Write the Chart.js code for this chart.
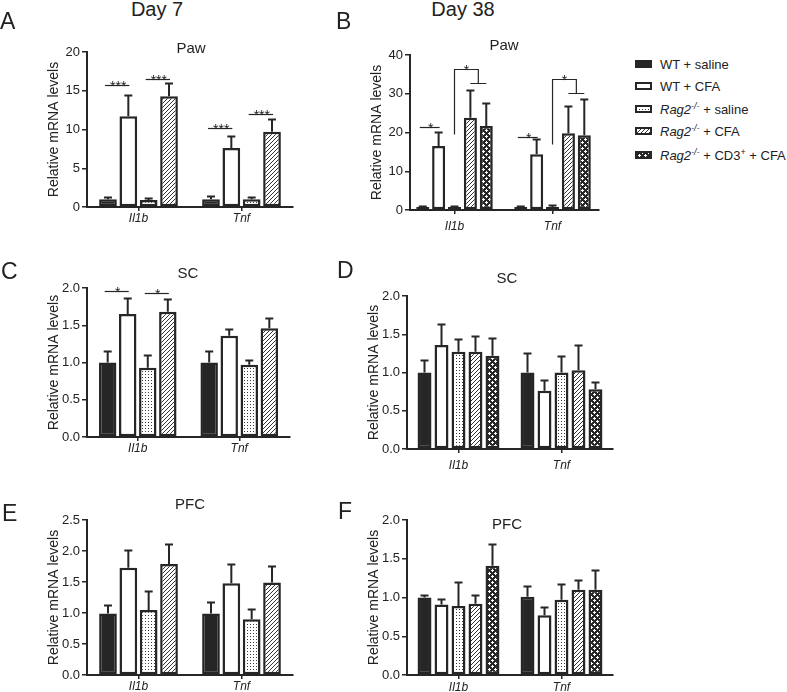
<!DOCTYPE html>
<html>
<head>
<meta charset="utf-8">
<script src="https://cdn.jsdelivr.net/npm/chart.js@4/dist/chart.umd.min.js"></script>
<style>
  body { margin: 0; background: #fff; font-family: "Liberation Sans", Arial, sans-serif; color: #222; }
  #fig { position: relative; width: 787px; height: 692px; overflow: hidden; }
  .abs { position: absolute; line-height: 1; white-space: nowrap; }
  .letter { font-size: 23px; }
  .day { font-size: 20px; text-align: center; width: 120px; }
  .ttl { font-size: 15px; text-align: center; width: 80px; }
  canvas.panel { position: absolute; }
  .leg { position: absolute; left: 635px; height: 13px; width: 150px; font-size: 13px; line-height: 13px; }
  .leg canvas { position: absolute; left: 0; top: 2px; }
  .leg span { position: absolute; left: 25px; top: 0; white-space: nowrap; }
  .leg sup { font-size: 9px; vertical-align: 5px; line-height: 0; }
</style>
</head>
<body>
<div id="fig">
  <canvas id="pawD7" class="panel" width="300" height="200" style="left:0px;top:30px"></canvas>
  <canvas id="pawD38" class="panel" width="290" height="205" style="left:320px;top:30px"></canvas>
  <canvas id="scD7" class="panel" width="300" height="190" style="left:0px;top:268px"></canvas>
  <canvas id="scD38" class="panel" width="300" height="195" style="left:320px;top:276px"></canvas>
  <canvas id="pfcD7" class="panel" width="300" height="192" style="left:0px;top:500px"></canvas>
  <canvas id="pfcD38" class="panel" width="300" height="192" style="left:320px;top:500px"></canvas>

  <div class="abs day" style="left:97px;top:-1px">Day 7</div>
  <div class="abs day" style="left:403px;top:-1px">Day 38</div>

  <div class="abs letter" style="left:0px;top:10px">A</div>
  <div class="abs letter" style="left:336px;top:10px">B</div>
  <div class="abs letter" style="left:1px;top:260px">C</div>
  <div class="abs letter" style="left:337px;top:259px">D</div>
  <div class="abs letter" style="left:2px;top:502px">E</div>
  <div class="abs letter" style="left:338px;top:500px">F</div>

  <div class="abs ttl" style="left:151px;top:40px">Paw</div>
  <div class="abs ttl" style="left:464px;top:37px">Paw</div>
  <div class="abs ttl" style="left:148px;top:265px">SC</div>
  <div class="abs ttl" style="left:467px;top:270px">SC</div>
  <div class="abs ttl" style="left:150px;top:496px">PFC</div>
  <div class="abs ttl" style="left:467px;top:516px">PFC</div>

  <div class="leg" style="top:58px"><canvas width="17" height="8"></canvas><span>WT + saline</span></div>
  <div class="leg" style="top:80px"><canvas width="17" height="8"></canvas><span>WT + CFA</span></div>
  <div class="leg" style="top:103px"><canvas width="17" height="8"></canvas><span><i>Rag2</i><sup><i>-/-</i></sup> + saline</span></div>
  <div class="leg" style="top:125px"><canvas width="17" height="8"></canvas><span><i>Rag2</i><sup><i>-/-</i></sup> + CFA</span></div>
  <div class="leg" style="top:149px"><canvas width="17" height="8"></canvas><span><i>Rag2</i><sup><i>-/-</i></sup> + CD3<sup>+</sup> + CFA</span></div>
</div>

<script>
const INK = "#262626";
const TXT = "#222";
const FONT = '"Liberation Sans", Arial, sans-serif';

const GENES = ["Il1b", "Tnf"];
const GROUPS = ["WT + saline", "WT + CFA", "Rag2-/- + saline", "Rag2-/- + CFA", "Rag2-/- + CD3+ + CFA"];

// mean per group (rows) and gene (columns, same order as GENES), then the SEM
const pawDay7 = [[1.0, 1.0], [11.7, 7.6], [0.9, 1.0], [14.3, 9.7]];
const pawDay7Sem = [[0.3, 0.4], [2.8, 1.5], [0.25, 0.3], [1.7, 1.6]];
const pawDay38 = [[0.8, 0.8], [16.5, 14.4], [0.8, 0.8], [23.8, 19.8], [21.7, 19.3]];
const pawDay38Sem = [[0.3, 0.3], [3.7, 3.9], [0.3, 0.4], [7.2, 7.0], [6.0, 9.3]];
const scDay7 = [[1.0, 1.0], [1.65, 1.36], [0.93, 0.97], [1.68, 1.46]];
const scDay7Sem = [[0.15, 0.16], [0.22, 0.09], [0.17, 0.06], [0.17, 0.14]];
const scDay38 = [[1.0, 1.0], [1.36, 0.76], [1.27, 1.0], [1.27, 1.03], [1.22, 0.78]];
const scDay38Sem = [[0.16, 0.26], [0.27, 0.14], [0.17, 0.22], [0.21, 0.33], [0.23, 0.09]];
const pfcDay7 = [[0.99, 0.99], [1.73, 1.48], [1.05, 0.9], [1.79, 1.49]];
const pfcDay7Sem = [[0.14, 0.19], [0.29, 0.31], [0.3, 0.16], [0.33, 0.27]];
const pfcDay38 = [[1.0, 1.01], [0.91, 0.77], [0.89, 0.97], [0.92, 1.1], [1.41, 1.1]];
const pfcDay38Sem = [[0.03, 0.14], [0.07, 0.11], [0.31, 0.21], [0.11, 0.13], [0.28, 0.25]];

// y axis ticks
const pawDay7Ticks = [0, 5, 10, 15, 20];
const pawDay38Ticks = [0, 10, 20, 30, 40];
const scTicks = [0, 0.5, 1.0, 1.5, 2.0];
const pfcDay7Ticks = [0, 0.5, 1.0, 1.5, 2.0, 2.5];
const pfcDay38Ticks = [0, 0.5, 1.0, 1.5, 2.0];

// significance lines: [gene, left bar, right bar, height, label]
const pawDay7Stars = [[0, 0, 1, 15.7, "***"], [0, 2, 3, 16.5, "***"], [1, 0, 1, 10.2, "***"], [1, 2, 3, 12.0, "***"]];
const scDay7Stars = [[0, 0, 1, 1.96, "*"], [0, 2, 3, 1.93, "*"]];
const pawDay38Stars = [[0, 0, 1, 21.5, "*"], [1, 0, 1, 18.9, "*"]];
// one bar against a pair: [gene, bar, first bar of pair, low end, top, pair level, label]
const pawDay38Brackets = [[0, 2, 3, 19.6, 36.4, 32.8, "*"], [1, 2, 3, 17.0, 33.7, 30.1, "*"]];

Chart.defaults.font.family = FONT;
Chart.defaults.color = TXT;

function tile(w, h, paint) {
  const c = document.createElement("canvas");
  c.width = w; c.height = h;
  paint(c.getContext("2d"));
  return c;
}
const dots = tile(3, 3, g => {
  g.fillStyle = "#fff"; g.fillRect(0, 0, 3, 3);
  g.fillStyle = "#3a3a3a"; g.fillRect(1, 1, 1, 1);
});
const hatch = tile(4, 4, g => {
  g.fillStyle = "#fff"; g.fillRect(0, 0, 4, 4);
  g.strokeStyle = "#333"; g.lineWidth = 1;
  g.beginPath();
  g.moveTo(0, 4); g.lineTo(4, 0);
  g.moveTo(-1, 1); g.lineTo(1, -1);
  g.moveTo(3, 5); g.lineTo(5, 3);
  g.stroke();
});
const crosses = tile(6, 6, g => {
  g.fillStyle = INK; g.fillRect(0, 0, 6, 6);
  g.fillStyle = "#fff";
  g.fillRect(1, 0, 1, 3); g.fillRect(0, 1, 3, 1);
  g.fillRect(4, 3, 1, 3); g.fillRect(3, 4, 3, 1);
});
function makeFills(ctx) {
  return [INK, "#fff", ctx.createPattern(dots, "repeat"), ctx.createPattern(hatch, "repeat"), ctx.createPattern(crosses, "repeat")];
}

const marks = {
  id: "marks",
  afterDatasetsDraw(chart, args, opt) {
    const g = chart.ctx, ys = chart.scales.y;
    const bar = (d, k) => chart.getDatasetMeta(d).data[k];
    const py = v => Math.round(ys.getPixelForValue(v)) + 0.5;
    g.save();
    g.strokeStyle = INK;
    g.fillStyle = TXT;
    g.lineWidth = 2;
    opt.sem.forEach((row, d) => row.forEach((e, k) => {
      const b = bar(d, k);
      const top = py(chart.data.datasets[d].data[k].y + e);
      g.beginPath();
      g.moveTo(b.x, b.y); g.lineTo(b.x, top);
      g.moveTo(b.x - 4, top); g.lineTo(b.x + 4, top);
      g.stroke();
    }));
    g.lineWidth = 1.2;
    g.font = "14px " + FONT;
    g.textAlign = "center";
    g.textBaseline = "alphabetic";
    opt.stars.forEach(([k, a, c, h, txt]) => {
      const x1 = bar(a, k).x, x2 = bar(c, k).x, y = py(h);
      g.beginPath(); g.moveTo(x1 - 3, y); g.lineTo(x2 + 1, y); g.stroke();
      g.fillText(txt, (x1 + x2) / 2, y + 5);
    });
    opt.brackets.forEach(([k, a, c, lo, hi, pair, txt]) => {
      const x0 = bar(a, k).x, xa = bar(c, k).x, xb = bar(c + 1, k).x, xm = (xa + xb) / 2;
      g.beginPath();
      g.moveTo(x0, py(lo)); g.lineTo(x0, py(hi)); g.lineTo(xm, py(hi)); g.lineTo(xm, py(pair));
      g.moveTo(xa, py(pair)); g.lineTo(xb, py(pair));
      g.stroke();
      g.fillText(txt, (x0 + xm) / 2, py(hi) + 5);
    });
    g.restore();
  }
};

const YW = 41;

function panel(id, o) {
  const canvas = document.getElementById(id);
  const ctx = canvas.getContext("2d");
  const fills = makeFills(ctx);
  const left = parseFloat(canvas.style.left), top = parseFloat(canvas.style.top);
  const [L, T, R, B] = o.area;
  const datasets = o.means.map((row, d) => ({
    label: GROUPS[d],
    data: row.map((v, k) => ({ x: k + 1, y: v })),
    backgroundColor: fills[d],
    borderColor: INK,
    borderWidth: 2.5,
    borderSkipped: false,
    categoryPercentage: o.cat,
    barPercentage: o.bar
  }));
  new Chart(ctx, {
    type: "bar",
    data: { datasets },
    options: {
      responsive: false,
      animation: false,
      layout: { padding: { left: L - left - YW, top: T - top, right: left + canvas.width - R, bottom: 0 } },
      plugins: {
        legend: { display: false },
        tooltip: { enabled: false },
        marks: { sem: o.sem, stars: o.stars || [], brackets: o.brackets || [] }
      },
      scales: {
        x: {
          type: "linear",
          offset: false,
          min: o.xRange[0],
          max: o.xRange[1],
          afterBuildTicks: s => { s.ticks = GENES.map((g, i) => ({ value: i + 1 })); },
          ticks: {
            callback: v => GENES[v - 1],
            font: { size: 12, style: "italic" },
            color: TXT,
            padding: o.labelGap,
            maxRotation: 0,
            autoSkip: false
          },
          grid: { offset: false, drawOnChartArea: false, tickLength: 4, color: INK, lineWidth: 1.5 },
          border: { color: INK, width: 2 },
          afterFit: s => { s.height = top + canvas.height - B; }
        },
        y: {
          min: o.ticks[0],
          max: o.ticks[o.ticks.length - 1],
          afterBuildTicks: s => { s.ticks = o.ticks.map(v => ({ value: v })); },
          ticks: { callback: v => v.toFixed(o.dec), font: { size: 13 }, color: TXT, padding: 2 },
          grid: { drawOnChartArea: false, tickLength: 5, color: INK, lineWidth: 1.5 },
          border: { color: INK, width: 2 },
          title: { display: true, text: "Relative mRNA levels", font: { size: 14 }, color: TXT, padding: 0 },
          afterFit: s => { s.width = YW; }
        }
      }
    },
    plugins: [marks]
  });
}

panel("pawD7", { area: [87, 52, 293, 207], xRange: [0.5, 2.5], ticks: pawDay7Ticks, dec: 0,
  means: pawDay7, sem: pawDay7Sem, stars: pawDay7Stars, cat: 0.79, bar: 0.87, labelGap: 0 });
panel("pawD38", { area: [410, 55, 599, 210], xRange: [0.546, 2.474], ticks: pawDay38Ticks, dec: 0,
  means: pawDay38, sem: pawDay38Sem, stars: pawDay38Stars, brackets: pawDay38Brackets, cat: 0.81, bar: 0.82, labelGap: 5 });
panel("scD7", { area: [87, 288, 290, 437], xRange: [0.5, 2.5], ticks: scTicks, dec: 1,
  means: scDay7, sem: scDay7Sem, stars: scDay7Stars, cat: 0.79, bar: 0.87, labelGap: 0 });
panel("scD38", { area: [407, 296, 613, 449], xRange: [0.5, 2.5], ticks: scTicks, dec: 1,
  means: scDay38, sem: scDay38Sem, cat: 0.825, bar: 0.82, labelGap: 5 });
panel("pfcD7", { area: [87, 520, 293, 675], xRange: [0.5, 2.5], ticks: pfcDay7Ticks, dec: 1,
  means: pfcDay7, sem: pfcDay7Sem, cat: 0.79, bar: 0.87, labelGap: 0 });
panel("pfcD38", { area: [407, 520, 613, 675], xRange: [0.5, 2.5], ticks: pfcDay38Ticks, dec: 1,
  means: pfcDay38, sem: pfcDay38Sem, cat: 0.825, bar: 0.82, labelGap: 1 });

// legend swatches use the same fills as the bars
document.querySelectorAll(".leg canvas").forEach((c, i) => {
  const g = c.getContext("2d");
  g.fillStyle = makeFills(g)[i];
  g.fillRect(0, 0, c.width, c.height);
  g.strokeStyle = INK;
  g.lineWidth = 2;
  g.strokeRect(1, 1, c.width - 2, c.height - 2);
});
</script>
</body>
</html>
